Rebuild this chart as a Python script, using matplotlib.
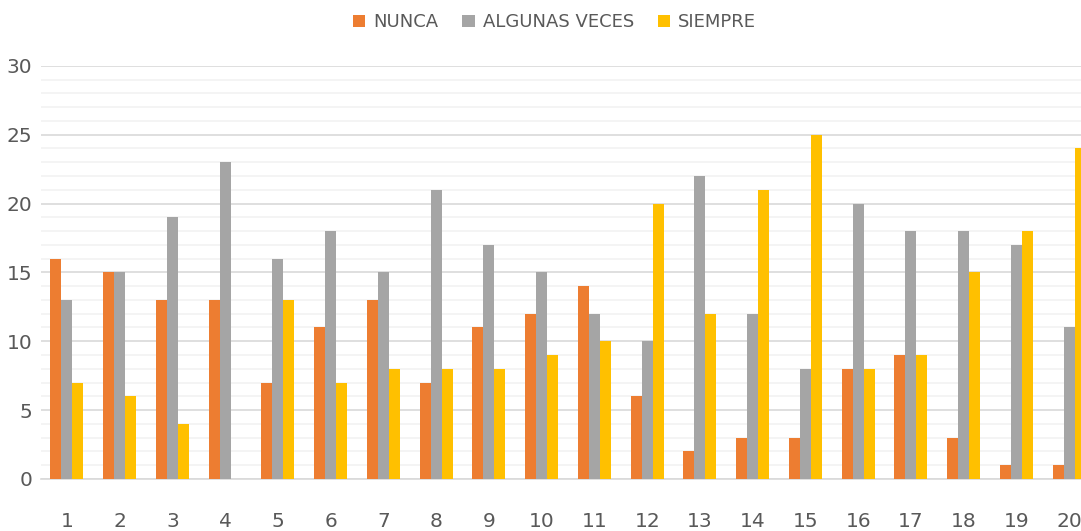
from matplotlib import pyplot as plt
import numpy as np

categories = [str(i) for i in range(1, 21)]
nunca = [16, 15, 13, 13, 7, 11, 13, 7, 11, 12, 14, 6, 2, 3, 3, 8, 9, 3, 1, 1]
algunas = [13, 15, 19, 23, 16, 18, 15, 21, 17, 15, 12, 10, 22, 12, 8, 20, 18, 18, 17, 11]
siempre = [7, 6, 4, 0, 13, 7, 8, 8, 8, 9, 10, 20, 12, 21, 25, 8, 9, 15, 18, 24]

series = [('NUNCA', nunca, '#ED7D31'),
          ('ALGUNAS VECES', algunas, '#A5A5A5'),
          ('SIEMPRE', siempre, '#FFC000')]

fig = plt.figure(figsize=(10.81, 5.31), dpi=100)
# axis runs past the right edge, as in the cropped original
ax = fig.add_axes([0.0375, 0.098, 0.976, 0.778])

x = np.arange(len(categories))
w = 0.208
for i, (name, vals, col) in enumerate(series):
    ax.bar(x + (i - 1) * w, vals, width=w, color=col, label=name, zorder=3)

ax.set_xlim(-0.5, len(categories) - 0.5)
ax.set_ylim(0, 30)
ax.set_yticks(range(0, 31, 5))
ax.set_yticks(range(0, 31, 1), minor=True)
ax.grid(axis='y', which='major', color='#D9D9D9', linewidth=1.2, zorder=0)
ax.grid(axis='y', which='minor', color='#F2F2F2', linewidth=1.2, zorder=0)
ax.set_xticks(x)
ax.set_xticklabels(categories)
ax.tick_params(axis='both', which='both', length=0, labelsize=14.5, labelcolor='#595959')
ax.tick_params(axis='x', pad=24)
ax.tick_params(axis='y', pad=6)
for s in ['top', 'right', 'left']:
    ax.spines[s].set_visible(False)
ax.spines['bottom'].set_color('#D9D9D9')
ax.spines['bottom'].set_linewidth(1.2)

fig.legend(loc='center', bbox_to_anchor=(0.513, 0.958), ncol=3, frameon=False,
           fontsize=13, labelcolor='#595959', handlelength=0.7, handleheight=0.7,
           handletextpad=0.45, columnspacing=1.3)

fig.savefig('out.png', dpi=100)
